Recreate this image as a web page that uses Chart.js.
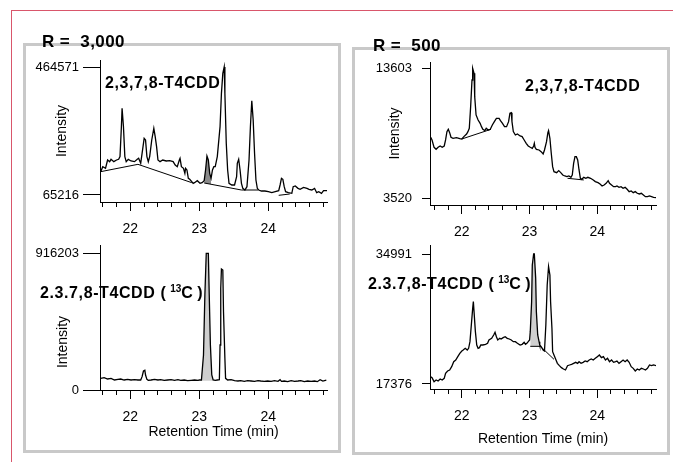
<!DOCTYPE html>
<html>
<head>
<meta charset="utf-8">
<title>T4CDD chromatograms</title>
<script src="https://cdn.jsdelivr.net/npm/chart.js@4.4.1/dist/chart.umd.min.js"></script>
<style>
  body { margin: 0; background: #fff; font-family: 'Liberation Sans', Arial, sans-serif; }
  #page { position: relative; width: 673px; height: 462px; overflow: hidden; background: #fff; }
  .rule { position: absolute; background: #d9566b; }
  .box { position: absolute; border: 3px solid #c9c9c9; box-sizing: border-box; }
  canvas { position: absolute; }
  .res { position: absolute; font-weight: bold; font-size: 17px; line-height: 17px; white-space: pre; letter-spacing: 0.4px; color: #000; }
  .cmp { position: absolute; font-weight: bold; font-size: 16px; line-height: 16px; white-space: pre; letter-spacing: 0.6px; color: #000; }
  .cmp sup { font-size: 10px; vertical-align: 6px; line-height: 0; letter-spacing: 0; }
  .ylab { position: absolute; width: 80px; text-align: center; font-size: 14px; line-height: 16px; transform: rotate(-90deg); color: #000; }
</style>
</head>
<body>
<div id="page">
  <div class="rule" style="left:11px; top:10px; width:662px; height:1px;"></div>
  <div class="rule" style="left:11px; top:10px; width:1px; height:452px;"></div>

  <div class="box" style="left:23px; top:43px; width:318px; height:410px;"></div>
  <div class="box" style="left:352px; top:47px; width:318px; height:408px;"></div>

  <canvas id="tl" width="311" height="193" style="left:28px; top:47px;"></canvas>
  <canvas id="bl" width="311" height="214" style="left:28px; top:232px;"></canvas>
  <canvas id="tr" width="308" height="197" style="left:360px; top:43px;"></canvas>
  <canvas id="br" width="308" height="227" style="left:360px; top:226px;"></canvas>

  <div class="res" style="left:42px; top:33px;">R =  3,000</div>
  <div class="res" style="left:373px; top:37px;">R =  500</div>

  <div class="cmp" style="left:105px; top:75px;">2,3,7,8-T4CDD</div>
  <div class="cmp" style="left:525px; top:78px;">2,3,7,8-T4CDD</div>
  <div class="cmp" style="left:40px; top:285px;">2.3.7,8-T4CDD (&#8201;<sup>13</sup>C&#8201;)</div>
  <div class="cmp" style="left:368px; top:276px;">2.3.7,8-T4CDD (&#8201;<sup>13</sup>C&#8201;)</div>

  <div class="ylab" style="left:22px; top:334px;">Intensity</div>
</div>

<script>
// retention time axis (min)
const timeTicks = [21.6, 21.8, 22, 22.2, 22.4, 22.6, 22.8, 23, 23.2, 23.4, 23.6, 23.8, 24, 24.2, 24.4, 24.6, 24.8];
const timeLabels = [22, 23, 24];

// R = 3,000 : native 2,3,7,8-T4CDD
const tlTicks = [65216, 464571];
const tlTime = [21.57, 21.60, 21.64, 21.67, 21.70, 21.72, 21.76, 21.80, 21.83, 21.85,
  21.87, 21.88, 21.90, 21.92, 21.94, 21.97, 22.01, 22.06, 22.10, 22.12,
  22.15, 22.17, 22.20, 22.22, 22.24, 22.26, 22.28, 22.31, 22.34, 22.36,
  22.38, 22.40, 22.43, 22.47, 22.52, 22.57, 22.62, 22.65, 22.68, 22.71,
  22.72, 22.74, 22.77, 22.79, 22.80, 22.82, 22.84, 22.86, 22.89, 22.91,
  22.93, 22.97, 23.01, 23.04, 23.07, 23.09, 23.11, 23.13, 23.15, 23.17,
  23.19, 23.21, 23.23, 23.26, 23.30, 23.32, 23.34, 23.36, 23.37, 23.39,
  23.41, 23.43, 23.47, 23.51, 23.54, 23.55, 23.57, 23.59, 23.61, 23.63,
  23.66, 23.69, 23.72, 23.74, 23.76, 23.78, 23.80, 23.82, 23.84, 23.86,
  23.90, 23.95, 24.00, 24.05, 24.10, 24.15, 24.17, 24.19, 24.21, 24.23,
  24.25, 24.29, 24.34, 24.36, 24.39, 24.43, 24.46, 24.51, 24.56, 24.59,
  24.63, 24.67, 24.70, 24.73, 24.77, 24.80, 24.85];
const tlIntensity = [138000, 153600, 148400, 174400, 169200, 176500, 169200, 174400, 176500, 185000,
  278400, 335600, 278400, 185000, 169200, 176500, 171300, 169200, 176500, 179600,
  164000, 195200, 242000, 236800, 185000, 169200, 185000, 236800, 273200, 247200,
  216000, 174400, 169200, 174400, 171300, 172300, 169200, 158800, 153600, 174400,
  179600, 153600, 148400, 132800, 148400, 143200, 117200, 114100, 106800, 101600,
  103700, 109900, 101600, 103700, 109900, 143200, 186900, 174400, 132800, 117200,
  143200, 153600, 153600, 185000, 278400, 382400, 444800, 464571, 382400, 226400,
  143200, 101600, 96400, 96400, 122400, 164000, 176500, 143200, 101600, 86000,
  80800, 91200, 174400, 278400, 359500, 299200, 195200, 112000, 86000, 80800,
  77700, 77700, 75600, 72500, 75600, 78700, 96400, 117200, 114100, 91200,
  75600, 72500, 70400, 91200, 93300, 86000, 82900, 89100, 86000, 82900,
  80800, 86000, 72500, 75600, 70400, 78700, 78700];
const tlBaseTime = [21.57, 22.11, 22.89, 22.98, 23.07, 23.61, 23.85, 24.00, 24.15, 24.31];
const tlBaseIntensity = [138000, 160900, 103700, null, 102700, 80800, 80800, null, 64200, 68300];
const tlPeakTime = [23.07, 23.09, 23.11, 23.13, 23.15, 23.17];
const tlPeakIntensity = [109900, 143200, 186900, 174400, 132800, 117200];
const tlPeakBaseTime = [23.07, 23.17];
const tlPeakBaseIntensity = [102700, 98600];

// R = 3,000 : 13C-labelled standard
const blTicks = [0, 916203];
const blTime = [21.57, 21.62, 21.67, 21.72, 21.77, 21.82, 21.86, 21.91, 21.96, 22.01,
  22.06, 22.11, 22.15, 22.17, 22.19, 22.21, 22.22, 22.24, 22.26, 22.30,
  22.35, 22.40, 22.44, 22.49, 22.54, 22.59, 22.64, 22.69, 22.73, 22.78,
  22.83, 22.88, 22.93, 22.98, 23.00, 23.03, 23.06, 23.08, 23.10, 23.13,
  23.14, 23.16, 23.18, 23.20, 23.23, 23.26, 23.29, 23.30, 23.31, 23.32,
  23.34, 23.35, 23.37, 23.38, 23.41, 23.46, 23.51, 23.56, 23.60, 23.65,
  23.70, 23.75, 23.80, 23.85, 23.89, 23.94, 23.99, 24.04, 24.09, 24.14,
  24.17, 24.19, 24.23, 24.28, 24.33, 24.38, 24.43, 24.47, 24.52, 24.57,
  24.62, 24.67, 24.71, 24.75, 24.79, 24.84];
const blIntensity = [78200, 82700, 73700, 78200, 67000, 71500, 73700, 67000, 71500, 67000,
  69300, 67000, 67000, 89400, 127300, 131800, 100500, 71500, 64800, 67000,
  71500, 67000, 69300, 64800, 67000, 69300, 64800, 69300, 64800, 67000,
  62600, 64800, 67000, 64800, 67000, 67000, 234600, 636700, 916203, 916203,
  703700, 301600, 100500, 67000, 64800, 67000, 69300, 301600, 681400, 810900,
  804200, 525000, 212200, 78200, 67000, 69300, 62600, 60300, 62600, 58100,
  62600, 60300, 58100, 62600, 60300, 58100, 60300, 58100, 62600, 58100,
  69300, 58100, 60300, 55900, 62600, 58100, 60300, 62600, 55900, 60300,
  58100, 60300, 55900, 69300, 60300, 67000];
const blPeakTime = [23.03, 23.06, 23.08, 23.10, 23.13, 23.14, 23.16, 23.18, 23.20];
const blPeakIntensity = [67000, 234600, 636700, 916203, 916203, 703700, 301600, 100500, 67000];
const blPeakBaseTime = [23.03, 23.20];
const blPeakBaseIntensity = [62000, 62000];

// R = 500 : native 2,3,7,8-T4CDD
const trTicks = [3520, 13603];
const trTime = [21.54, 21.56, 21.59, 21.62, 21.65, 21.68, 21.71, 21.74, 21.76, 21.78,
  21.80, 21.82, 21.84, 21.87, 21.92, 21.97, 22.00, 22.03, 22.07, 22.09,
  22.11, 22.13, 22.15, 22.16, 22.18, 22.19, 22.21, 22.24, 22.27, 22.29,
  22.31, 22.34, 22.36, 22.39, 22.42, 22.45, 22.48, 22.51, 22.55, 22.57,
  22.60, 22.63, 22.66, 22.69, 22.71, 22.73, 22.74, 22.76, 22.79, 22.82,
  22.86, 22.89, 22.92, 22.95, 22.98, 23.01, 23.04, 23.06, 23.07, 23.08,
  23.10, 23.14, 23.17, 23.20, 23.22, 23.25, 23.27, 23.28, 23.30, 23.32,
  23.34, 23.36, 23.40, 23.43, 23.46, 23.49, 23.52, 23.55, 23.58, 23.61,
  23.63, 23.65, 23.67, 23.69, 23.71, 23.73, 23.75, 23.77, 23.80, 23.83,
  23.86, 23.90, 23.94, 23.97, 24.01, 24.04, 24.07, 24.10, 24.13, 24.16,
  24.18, 24.21, 24.24, 24.27, 24.29, 24.32, 24.35, 24.38, 24.41, 24.44,
  24.47, 24.50, 24.53, 24.56, 24.59, 24.62, 24.65, 24.68, 24.71, 24.74,
  24.77, 24.80, 24.83, 24.87];
const trIntensity = [8251, 8044, 7475, 7320, 7475, 7578, 7475, 7578, 8044, 8690,
  8871, 8612, 8251, 8173, 8225, 8147, 8121, 8302, 8509, 8690,
  8949, 10629, 12697, 13603, 13214, 11404, 9983, 9595, 9336, 9078,
  8871, 8768, 8949, 8819, 8871, 9207, 9466, 9724, 9724, 9543,
  9336, 9078, 9078, 9466, 10112, 10163, 9466, 8690, 8432, 8509,
  8354, 8302, 8044, 7785, 7578, 7475, 7398, 7578, 7785, 7475,
  7320, 7268, 7139, 6958, 7268, 7915, 8612, 8768, 8173, 7010,
  5976, 5588, 5510, 5666, 5510, 5330, 5252, 5200, 5252, 5149,
  5330, 6234, 6751, 6751, 6493, 5717, 5071, 4993, 5149, 5071,
  5149, 5071, 4942, 4813, 4735, 4632, 4476, 4554, 4683, 4890,
  4683, 4554, 4425, 4425, 4476, 4373, 4425, 4296, 4373, 4218,
  4037, 4089, 3959, 4037, 3908, 3856, 3908, 3779, 3649, 3649,
  3701, 3649, 3598, 3572];
const trBaseTime = [22.00, 22.43, 22.50, 23.56, 23.80];
const trBaseIntensity = [8121, 8871, null, 5071, 4942];

// R = 500 : 13C-labelled standard
const brTicks = [17376, 34991];
const brTime = [21.54, 21.56, 21.59, 21.62, 21.65, 21.68, 21.71, 21.74, 21.76, 21.79,
  21.82, 21.85, 21.88, 21.91, 21.94, 21.97, 22.00, 22.02, 22.05, 22.08,
  22.10, 22.12, 22.14, 22.16, 22.17, 22.18, 22.20, 22.22, 22.24, 22.26,
  22.28, 22.31, 22.35, 22.38, 22.40, 22.44, 22.47, 22.49, 22.51, 22.53,
  22.56, 22.58, 22.61, 22.64, 22.67, 22.70, 22.73, 22.76, 22.79, 22.82,
  22.86, 22.89, 22.92, 22.94, 22.96, 22.98, 23.00, 23.01, 23.03, 23.04,
  23.06, 23.07, 23.09, 23.10, 23.12, 23.14, 23.15, 23.17, 23.20, 23.22,
  23.24, 23.26, 23.28, 23.30, 23.31, 23.33, 23.34, 23.36, 23.39, 23.41,
  23.44, 23.47, 23.50, 23.53, 23.56, 23.59, 23.62, 23.65, 23.68, 23.71,
  23.73, 23.76, 23.79, 23.82, 23.85, 23.88, 23.91, 23.94, 23.97, 24.00,
  24.03, 24.06, 24.09, 24.12, 24.15, 24.18, 24.21, 24.24, 24.27, 24.29,
  24.32, 24.35, 24.38, 24.41, 24.44, 24.47, 24.50, 24.53, 24.56, 24.59,
  24.62, 24.65, 24.68, 24.71, 24.74, 24.77, 24.80, 24.83, 24.87];
const brIntensity = [18370, 18234, 17692, 17918, 17783, 18054, 17918, 18144, 18821, 19138,
  19273, 19725, 20402, 20628, 21080, 21532, 21848, 21983, 22209, 21983,
  22209, 23113, 25371, 27630, 28533, 27178, 24468, 22661, 22209, 22299,
  22661, 22661, 22751, 22887, 23338, 23564, 24016, 24377, 23790, 23338,
  23564, 23474, 23655, 23790, 23564, 23474, 23338, 23113, 23113, 22887,
  22661, 22751, 23022, 22751, 22887, 23113, 23338, 24468, 28533, 33502,
  34991, 34991, 31695, 27178, 24016, 23113, 22661, 22435, 21983, 21848,
  25371, 30791, 33276, 32147, 28533, 24920, 21758, 21306, 20628, 20177,
  19860, 19589, 19409, 19273, 19860, 19951, 20041, 20177, 20312, 20177,
  20402, 20177, 20312, 20493, 20402, 20628, 20764, 20628, 20854, 21080,
  21306, 20944, 21080, 20628, 20854, 20402, 20628, 20312, 20402, 20493,
  20177, 20402, 20628, 20402, 20628, 20312, 19725, 19499, 19138, 19409,
  19273, 19499, 19409, 19273, 19499, 19951, 19860, 19951, 19860];
const brBaseTime = [23.01, 23.16, 23.36];
const brBaseIntensity = [22480, 22480, 20720];
const brPeakTime = [23.01, 23.03, 23.04, 23.06, 23.07, 23.09, 23.10, 23.12, 23.14, 23.15];
const brPeakIntensity = [24468, 28533, 33502, 34991, 34991, 31695, 27178, 24016, 23113, 22661];
const brPeakBaseTime = [23.01, 23.15];
const brPeakBaseIntensity = [22480, 22480];

Chart.defaults.font.family = "'Liberation Sans', Arial, sans-serif";
Chart.defaults.color = '#000';

function points(xs, ys) {
    return xs.map((x, i) => ({ x: x, y: ys[i] }));
}

function makePanel(id, p) {
    const datasets = [{
        data: points(p.time, p.intensity),
        borderColor: '#000',
        borderWidth: 1.3,
        pointRadius: 0,
        fill: false
    }];

    if (p.baseTime) {
        datasets.push({
            data: points(p.baseTime, p.baseIntensity),
            borderColor: '#000',
            borderWidth: 1,
            pointRadius: 0,
            fill: false
        });
    }

    if (p.peakTime) {
        // shaded integration area: peak trace filled down to its baseline
        datasets.push({
            data: points(p.peakTime, p.peakIntensity),
            borderColor: 'rgba(0,0,0,0)',
            backgroundColor: p.shade,
            pointRadius: 0,
            fill: '+1'
        });
        datasets.push({
            data: points(p.peakBaseTime, p.peakBaseIntensity),
            borderColor: 'rgba(0,0,0,0)',
            pointRadius: 0,
            fill: false
        });
    }

    new Chart(document.getElementById(id), {
        type: 'line',
        data: { datasets: datasets },
        options: {
            responsive: false,
            animation: false,
            devicePixelRatio: 1,
            layout: { padding: { top: p.padTop, right: 12, left: 0, bottom: 0 } },
            plugins: { legend: { display: false }, tooltip: { enabled: false } },
            scales: {
                x: {
                    type: 'linear',
                    min: p.xMin,
                    max: p.xMax,
                    afterBuildTicks: scale => { scale.ticks = timeTicks.map(v => ({ value: v })); },
                    afterFit: scale => { scale.height = p.xHeight; },
                    ticks: {
                        autoSkip: false,
                        maxRotation: 0,
                        minRotation: 0,
                        padding: 14,
                        color: '#000',
                        font: { size: 14 },
                        callback: v => timeLabels.includes(v) ? String(v) : ''
                    },
                    grid: { drawOnChartArea: false, tickLength: 5, color: '#000' },
                    border: { color: '#000', width: 1 },
                    title: {
                        display: p.xTitle,
                        text: 'Retention Time (min)',
                        color: '#000',
                        font: { size: 14 },
                        padding: { top: 0, bottom: 5 }
                    }
                },
                xMajor: {
                    axis: 'x',
                    type: 'linear',
                    position: { y: p.yMin },
                    min: p.xMin,
                    max: p.xMax,
                    afterBuildTicks: scale => { scale.ticks = timeLabels.map(v => ({ value: v })); },
                    ticks: { display: false },
                    grid: { drawOnChartArea: false, tickLength: 9, color: '#000' },
                    border: { display: false }
                },
                y: {
                    type: 'linear',
                    min: p.yMin,
                    max: p.yMax,
                    afterBuildTicks: scale => { scale.ticks = p.yTicks.map(v => ({ value: v })); },
                    afterFit: scale => { scale.width = p.yWidth; },
                    ticks: {
                        autoSkip: false,
                        padding: p.yPad,
                        color: '#000',
                        font: { size: 13 },
                        callback: v => String(v)
                    },
                    grid: { drawOnChartArea: false, tickLength: p.yTickLen, color: '#000' },
                    border: { color: '#000', width: 1 },
                    title: {
                        display: p.yTitle,
                        text: 'Intensity',
                        color: '#000',
                        font: { size: 14 },
                        padding: { top: p.yTitlePad, bottom: 0 }
                    }
                }
            }
        }
    });
}

document.addEventListener('DOMContentLoaded', () => {
    makePanel('tl', {
        time: tlTime, intensity: tlIntensity,
        baseTime: tlBaseTime, baseIntensity: tlBaseIntensity,
        peakTime: tlPeakTime, peakIntensity: tlPeakIntensity,
        peakBaseTime: tlPeakBaseTime, peakBaseIntensity: tlPeakBaseIntensity,
        shade: '#8a8a8a',
        yTicks: tlTicks, yMin: 43376, yMax: 486411,
        xMin: 21.56, xMax: 24.85,
        padTop: 13, yWidth: 72, xHeight: 38,
        yTickLen: 17, yPad: 4, yTitle: true, yTitlePad: 26, xTitle: false
    });

    makePanel('bl', {
        time: blTime, intensity: blIntensity,
        peakTime: blPeakTime, peakIntensity: blPeakIntensity,
        peakBaseTime: blPeakBaseTime, peakBaseIntensity: blPeakBaseIntensity,
        shade: '#cfcfcf',
        yTicks: blTicks, yMin: 0, yMax: 971830,
        xMin: 21.56, xMax: 24.85,
        padTop: 13, yWidth: 72, xHeight: 56,
        yTickLen: 17, yPad: 4, yTitle: false, yTitlePad: 0, xTitle: true
    });

    makePanel('tr', {
        time: trTime, intensity: trIntensity,
        baseTime: trBaseTime, baseIntensity: trBaseIntensity,
        yTicks: trTicks, yMin: 3000, yMax: 14092,
        xMin: 21.53, xMax: 24.866,
        padTop: 19, yWidth: 70, xHeight: 35,
        yTickLen: 8, yPad: 10, yTitle: true, yTitlePad: 27, xTitle: false
    });

    makePanel('br', {
        time: brTime, intensity: brIntensity,
        baseTime: brBaseTime, baseIntensity: brBaseIntensity,
        peakTime: brPeakTime, peakIntensity: brPeakIntensity,
        peakBaseTime: brPeakBaseTime, peakBaseIntensity: brPeakBaseIntensity,
        shade: '#cfcfcf',
        yTicks: brTicks, yMin: 16698, yMax: 36211,
        xMin: 21.53, xMax: 24.866,
        padTop: 19, yWidth: 70, xHeight: 64,
        yTickLen: 8, yPad: 10, yTitle: false, yTitlePad: 0, xTitle: true
    });
});
</script>
</body>
</html>
